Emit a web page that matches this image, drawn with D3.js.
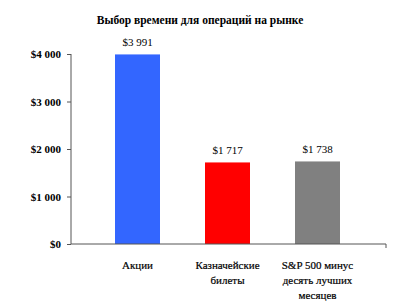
<!DOCTYPE html>
<html>
<head>
<meta charset="utf-8">
<script src="https://cdn.jsdelivr.net/npm/d3@7"></script>
<style>
  body { margin: 0; background: #fff; }
</style>
</head>
<body>
<div id="chart"></div>
<script>
const title = "Выбор времени для операций на рынке";
const categories = ["Акции", "Казначейские\nбилеты", "S&P 500 минус\nдесять лучших\nмесяцев"];
const values = [3991, 1717, 1738];
const barColors = ["#3366ff", "#ff0000", "#808080"];
const yTicks = [0, 1000, 2000, 3000, 4000];

const width = 400;
const height = 308;
const serif = "'Liberation Serif', serif";

const locale = d3.formatLocale({ decimal: ",", thousands: "\u00a0", grouping: [3], currency: ["$", ""] });
const money = locale.format("$,");

const svg = d3.select("#chart").append("svg")
  .attr("width", width)
  .attr("height", height)
  .style("font-family", serif);

const xScale = d3.scaleBand()
  .domain(categories)
  .range([92.5, 362.5])
  .paddingInner(0.5)
  .paddingOuter(0.25);

const yScale = d3.scaleLinear()
  .domain([0, 4000])
  .range([244, 54]);

svg.append("text")
  .attr("x", 200)
  .attr("y", 24)
  .attr("text-anchor", "middle")
  .style("font-family", serif)
  .attr("font-size", 11.5)
  .attr("font-weight", "bold")
  .text(title);

// y axis
const yAxis = d3.axisLeft(yScale)
  .tickValues(yTicks)
  .tickSize(4)
  .tickPadding(6)
  .tickFormat(money);

svg.append("g")
  .attr("transform", "translate(71,0)")
  .call(yAxis)
  .attr("font-family", null)
  .call((g) => g.select(".domain").attr("stroke", "#555").attr("d", "M0,54V244"))
  .call((g) => g.selectAll(".tick line").attr("stroke", "#555"))
  .call((g) => g.selectAll(".tick text")
    .style("font-family", serif)
    .attr("font-size", 11)
    .attr("font-weight", "bold")
    .attr("fill", "#000"));

// bars
svg.append("g")
  .selectAll("rect")
  .data(values)
  .join("rect")
  .attr("x", (d, i) => xScale(categories[i]))
  .attr("y", (d) => yScale(d))
  .attr("width", xScale.bandwidth())
  .attr("height", (d) => yScale(0) - yScale(d))
  .attr("fill", (d, i) => barColors[i]);

// x axis line
svg.append("path")
  .attr("d", `M71,${yScale(0)}H386V${yScale(0) + 4}`)
  .attr("fill", "none")
  .attr("stroke", "#555");

// value labels
svg.append("g")
  .selectAll("text")
  .data(values)
  .join("text")
  .attr("x", (d, i) => xScale(categories[i]) + xScale.bandwidth() / 2)
  .attr("y", (d) => yScale(d) - 8)
  .attr("text-anchor", "middle")
  .style("font-family", serif)
  .attr("font-size", 11)
  .text((d) => money(d));

// category labels
svg.append("g")
  .selectAll("text")
  .data(categories)
  .join("text")
  .attr("x", (d) => xScale(d) + xScale.bandwidth() / 2)
  .attr("y", 269)
  .attr("text-anchor", "middle")
  .style("font-family", serif)
  .attr("font-size", 11)
  .attr("stroke", "#000")
  .attr("stroke-width", 0.2)
  .each(function (d) {
    const t = d3.select(this);
    d.split("\n").forEach((line, i) => {
      t.append("tspan")
        .attr("x", xScale(d) + xScale.bandwidth() / 2)
        .attr("dy", i === 0 ? 0 : 15)
        .text(line);
    });
  });
</script>
</body>
</html>
